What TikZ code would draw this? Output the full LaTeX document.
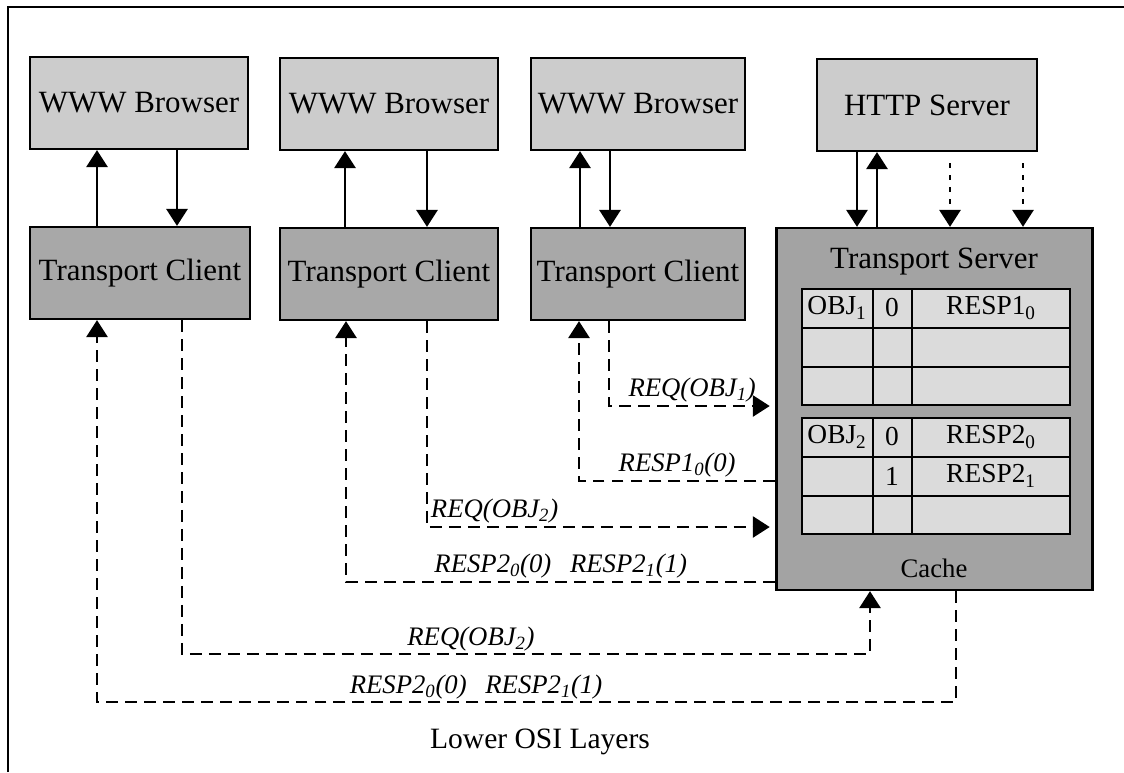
\documentclass[tikz,border=0pt]{standalone}
\usepackage{fontspec}
\setmainfont{Liberation Serif}
\usetikzlibrary{arrows.meta}

\definecolor{browsergray}{gray}{0.80}
\definecolor{clientgray}{gray}{0.66}
\definecolor{servergray}{gray}{0.64}
\definecolor{cellgray}{gray}{0.86}

\begin{document}
\begin{tikzpicture}[x=0.025cm,y=-0.025cm,
        box/.style={draw,line width=1.6pt,fill=#1,inner sep=0pt,
            minimum width=5.45cm,minimum height=2.3cm,font=\fontsize{22}{26}\selectfont},
        arr/.style={-{Triangle[width=15pt,length=12pt]},line width=1.6pt},
        msgline/.style={arr,dash pattern=on 8.5pt off 5pt,line width=1.6pt},
        msg/.style={font=\fontsize{19}{22}\selectfont\itshape,inner sep=2pt},
        cell/.style={font=\fontsize{19.5}{22}\selectfont}]
        \useasboundingbox (0,0) rectangle (1124,772);
        % Frame
        \draw [line width=1.6pt] (8,772) -- (8,7) -- (1124,7);
        % Application layer
        \node[box=browsergray] (br1) at (139,103) {WWW Browser};
        \node[box=browsergray] (br2) at (389,104) {WWW Browser};
        \node[box=browsergray,minimum width=5.35cm] (br3) at (638,104) {WWW Browser};
        \node[box=browsergray,minimum width=5.5cm] (http) at (927,105) {HTTP Server};
        % Transport layer
        \node[box=clientgray,minimum width=5.5cm] (tc1) at (140,273) {Transport Client};
        \node[box=clientgray] (tc2) at (389,274) {Transport Client};
        \node[box=clientgray,minimum width=5.35cm] (tc3) at (638,274) {Transport Client};
        \node[box=servergray,minimum width=7.9cm,minimum height=9.05cm] (srv) at (934.5,409) {};
        \node[font=\fontsize{22}{26}\selectfont] (srvname) at (934,262) {Transport Server};
        % Cache tables
        \foreach \top in {289, 418} {
            \filldraw [fill=cellgray,line width=1.6pt] (802,\top) rectangle (1070,\top+116);
            \draw [line width=1.6pt] (873,\top) -- (873,\top+116) (912,\top) -- (912,\top+116)
                (802,\top+39) -- (1070,\top+39) (802,\top+78) -- (1070,\top+78);
        }
        \node[cell] (obj1) at (837,308) {OBJ\textsubscript{1}};
        \node[cell] (seq1) at (892,308) {0};
        \node[cell] (resp1) at (991,308) {RESP1\textsubscript{0}};
        \node[cell] (obj2) at (837,437) {OBJ\textsubscript{2}};
        \node[cell] (seq2a) at (892,437) {0};
        \node[cell] (resp2a) at (991,437) {RESP2\textsubscript{0}};
        \node[cell] (seq2b) at (892,476) {1};
        \node[cell] (resp2b) at (991,476) {RESP2\textsubscript{1}};
        \node[font=\fontsize{19}{22}\selectfont] (cache) at (934,568) {Cache};
        % Browser <-> client
        \foreach \i/\ux/\dx in {1/97/177, 2/345/427, 3/580/610} {
            \draw [arr] (\ux,0 |- tc\i.north) -- (\ux,0 |- br\i.south);
            \draw [arr] (\dx,0 |- br\i.south) -- (\dx,0 |- tc\i.north);
        }
        % HTTP server <-> transport server
        \draw [arr] (857,0 |- http.south) -- (857,0 |- srv.north);
        \draw [arr] (877,0 |- srv.north) -- (877,0 |- http.south);
        \foreach \x in {950,1023}
            \draw [arr,dash pattern=on 3.5pt off 5pt,shorten <=8pt] (\x,0 |- http.south) -- (\x,0 |- srv.north);
        % Requests and responses
        \draw [msgline,shorten >=4pt] (609,0 |- tc3.south) |- (srv.west |- 0,406)
            node [msg,pos=0.75,above] {REQ(OBJ\textsubscript{1})};
        \draw [msgline] (srv.west |- 0,481) -| (579,0 |- tc3.south)
            node [msg,pos=0.25,above] {RESP1\textsubscript{0}(0)};
        \draw [msgline,shorten >=4pt] (427,0 |- tc2.south) |- (srv.west |- 0,527)
            node [msg,pos=0.5,above right] {REQ(OBJ\textsubscript{2})};
        \draw [msgline] (srv.west |- 0,582) -| (346,0 |- tc2.south)
            node [msg,pos=0.25,above] {RESP2\textsubscript{0}(0)\hspace{0.7em}RESP2\textsubscript{1}(1)};
        \draw [msgline] (182,0 |- tc1.south) |- (870,654) -- (870,0 |- srv.south);
        \node[msg,above] (req2low) at (471,654) {REQ(OBJ\textsubscript{2})};
        \draw [msgline] (956,0 |- srv.south) |- (97,702) -- (97,0 |- tc1.south);
        \node[msg,above] (resp2low) at (476,702) {RESP2\textsubscript{0}(0)\hspace{0.7em}RESP2\textsubscript{1}(1)};
        % Bottom label
        \node[font=\fontsize{21}{24}\selectfont] (osi) at (540,742) {Lower OSI Layers};
\end{tikzpicture}
\end{document}
